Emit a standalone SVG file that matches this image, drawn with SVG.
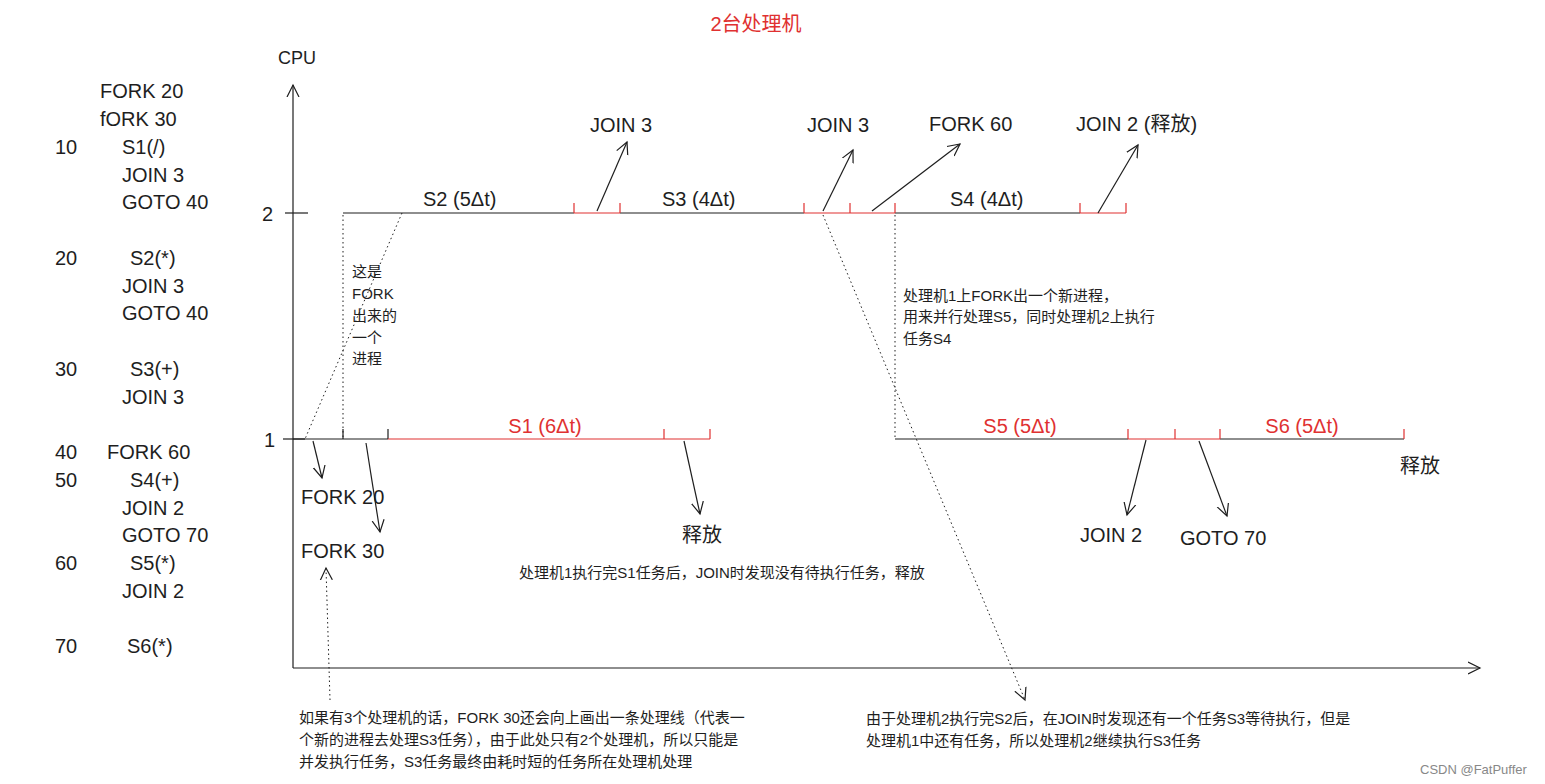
<svg xmlns="http://www.w3.org/2000/svg" width="1545" height="784" viewBox="0 0 1545 784">
<style>
text{font-family:"Liberation Sans","Noto Sans CJK SC",sans-serif;fill:#1e1e1e}
.c{font-size:20px}
.r{fill:#e03131}
.s{font-size:15px}
.k{stroke:#1e1e1e;stroke-width:1.2;fill:none}
.rd{stroke:#e03131;stroke-width:1.2;fill:none}
.d{stroke:#1e1e1e;stroke-width:1;stroke-dasharray:1.5 3;fill:none}
</style>
<defs>
<marker id="a" markerWidth="14" markerHeight="14" refX="12" refY="7" orient="auto" markerUnits="userSpaceOnUse"><path d="M0,1 L12,7 L0,13" fill="none" stroke="#1e1e1e" stroke-width="1.2"/></marker>
</defs>
<rect width="1545" height="784" fill="#fff"/>
<text x="756" y="31" font-size="20" text-anchor="middle" class="r">2台处理机</text>
<g id="axes">
<line class="k" x1="293" y1="668" x2="293" y2="85" marker-end="url(#a)"/>
<line class="k" x1="293" y1="668" x2="1480" y2="668" marker-end="url(#a)"/>
<line class="k" x1="285" y1="213" x2="308" y2="213"/>
<line class="k" x1="283" y1="439" x2="305" y2="439"/>
<text x="278" y="64" font-size="18">CPU</text>
<text x="262" y="221" class="c">2</text>
<text x="264" y="447" class="c">1</text>
</g>
<g id="code" class="c">
<text x="100" y="98">FORK 20</text>
<text x="100" y="126">fORK 30</text>
<text x="55" y="154">10</text><text x="122" y="154">S1(/)</text>
<text x="122" y="182">JOIN 3</text>
<text x="122" y="209">GOTO 40</text>
<text x="55" y="265">20</text><text x="130" y="265">S2(*)</text>
<text x="122" y="293">JOIN 3</text>
<text x="122" y="320">GOTO 40</text>
<text x="55" y="376">30</text><text x="130" y="376">S3(+)</text>
<text x="122" y="404">JOIN 3</text>
<text x="55" y="459">40</text><text x="107" y="459">FORK 60</text>
<text x="55" y="487">50</text><text x="130" y="487">S4(+)</text>
<text x="122" y="515">JOIN 2</text>
<text x="122" y="542">GOTO 70</text>
<text x="55" y="570">60</text><text x="130" y="570">S5(*)</text>
<text x="122" y="598">JOIN 2</text>
<text x="55" y="653">70</text><text x="127" y="653">S6(*)</text>
</g>
<g id="cpu2">
<path class="k" d="M343,213 H574 M620,213 H804 M895,213 H1080"/>
<path class="rd" d="M574,213 H620 M804,213 H895 M1080,213 H1126 M574,203 V213 M620,203 V213 M804,203 V213 M850,203 V213 M895,203 V213 M1080,203 V213 M1126,203 V213"/>
<text x="423" y="206" class="c">S2 (5Δt)</text>
<text x="662" y="206" class="c">S3 (4Δt)</text>
<text x="950" y="206" class="c">S4 (4Δt)</text>
<text x="590" y="132" class="c">JOIN 3</text>
<text x="807" y="132" class="c">JOIN 3</text>
<text x="929" y="131" class="c">FORK 60</text>
<text x="1076" y="131" class="c">JOIN 2 (释放)</text>
</g>
<g id="cpu1">
<path class="k" d="M293,439 H388 M343,429 V439 M388,429 V439 M895,439 H1128 M1220,439 H1404"/>
<path class="rd" d="M388,439 H710 M664,429 V439 M710,429 V439 M1128,439 H1220 M1128,429 V439 M1175,429 V439 M1220,429 V439 M1404,429 V439"/>
<text x="545" y="433" class="c r" text-anchor="middle">S1 (6Δt)</text>
<text x="1020" y="433" class="c r" text-anchor="middle">S5 (5Δt)</text>
<text x="1302" y="433" class="c r" text-anchor="middle">S6 (5Δt)</text>
<text x="301" y="504" class="c">FORK 20</text>
<text x="301" y="558" class="c">FORK 30</text>
<text x="682" y="542" class="c">释放</text>
<text x="1080" y="542" class="c">JOIN 2</text>
<text x="1180" y="545" class="c">GOTO 70</text>
<text x="1400" y="473" class="c">释放</text>
</g>
<g id="connectors">
<line class="k" x1="597" y1="211" x2="627" y2="142" marker-end="url(#a)"/>
<line class="k" x1="823" y1="211" x2="853" y2="150" marker-end="url(#a)"/>
<line class="k" x1="872" y1="211" x2="960" y2="144" marker-end="url(#a)"/>
<line class="k" x1="1098" y1="213" x2="1138" y2="145" marker-end="url(#a)"/>
<line class="k" x1="313" y1="441" x2="322" y2="478" marker-end="url(#a)"/>
<line class="k" x1="366" y1="443" x2="380" y2="532" marker-end="url(#a)"/>
<line class="k" x1="684" y1="441" x2="700" y2="514" marker-end="url(#a)"/>
<line class="k" x1="1146" y1="440" x2="1127" y2="515" marker-end="url(#a)"/>
<line class="k" x1="1199" y1="441" x2="1227" y2="516" marker-end="url(#a)"/>
<line class="d" x1="343" y1="215" x2="343" y2="437"/>
<line class="d" x1="402" y1="213" x2="305" y2="439"/>
<line class="d" x1="895" y1="215" x2="895" y2="437"/>
<line class="d" x1="823" y1="215" x2="1025" y2="700" marker-end="url(#a)"/>
<line class="d" x1="330" y1="700" x2="326" y2="568" marker-end="url(#a)"/>
</g>
<g id="notes" class="s">
<text x="352" y="277">这是</text>
<text x="352" y="299">FORK</text>
<text x="352" y="321">出来的</text>
<text x="352" y="343">一个</text>
<text x="352" y="364">进程</text>
<text x="903" y="301">处理机1上FORK出一个新进程，</text>
<text x="903" y="322">用来并行处理S5，同时处理机2上执行</text>
<text x="903" y="344">任务S4</text>
<text x="519" y="578">处理机1执行完S1任务后，JOIN时发现没有待执行任务，释放</text>
<text x="299" y="723">如果有3个处理机的话，FORK 30还会向上画出一条处理线（代表一</text>
<text x="299" y="745">个新的进程去处理S3任务），由于此处只有2个处理机，所以只能是</text>
<text x="299" y="767">并发执行任务，S3任务最终由耗时短的任务所在处理机处理</text>
<text x="866" y="724">由于处理机2执行完S2后，在JOIN时发现还有一个任务S3等待执行，但是</text>
<text x="866" y="746">处理机1中还有任务，所以处理机2继续执行S3任务</text>
<text x="1420" y="774" font-size="13" fill="#888" style="fill:#888">CSDN @FatPuffer</text>
</g>
</svg>
